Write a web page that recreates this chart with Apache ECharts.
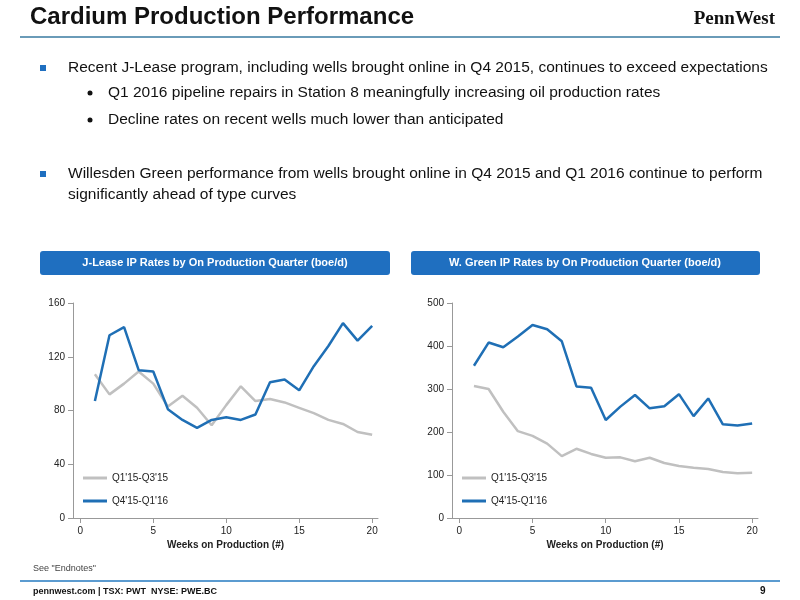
<!DOCTYPE html>
<html><head><meta charset="utf-8">
<script src="https://cdn.jsdelivr.net/npm/echarts@6/dist/echarts.min.js"></script>
<style>html,body{margin:0;padding:0;background:#fff}#c{width:800px;height:600px}</style>
</head><body><div id="c"></div>
<script>
const weeks = [1,2,3,4,5,6,7,8,9,10,11,12,13,14,15,16,17,18,19,20];
const jleaseOld = [107,92,100,109,100,83,91,82,69,84,98,87,88.5,86,82,78,73,70,64,62];
const jleaseNew = [87,136,142,110,109,81,73,67,73,75,73,77,101,103,95,113,128,145,132,143];
const greenOld = [307,300,247,202,191,173,144,161,149,140,141,132,140,128,121,117,114,107,104,105];
const greenNew = [354,408,397,422,449,439,411,306,303,228,259,286,255,260,288,237,278,218,215,220];
const xTicks = [0,5,10,15,20];
const seriesNames = ["Q1'15-Q3'15","Q4'15-Q1'16"];
const GRAY='#c0c0c0', BLUE='#1f6fb5';
const F='Liberation Sans, Arial, sans-serif';
const chart = echarts.init(document.getElementById('c'));
function xa(g){return {type:'value',gridIndex:g,min:-0.5,max:20.4,name:'Weeks on Production (#)',nameLocation:'middle',nameGap:22,
  nameTextStyle:{fontFamily:F,fontSize:10,fontWeight:'bold',color:'#222'},
  axisLine:{onZero:false,lineStyle:{color:'#999'}},axisTick:{show:true,customValues:xTicks,lineStyle:{color:'#999'}},splitLine:{show:false},
  axisLabel:{customValues:xTicks,fontFamily:F,fontSize:10,color:'#222'}};}
function ya(g,max,int){return {type:'value',gridIndex:g,min:0,max:max,interval:int,
  axisLine:{show:true,onZero:false,lineStyle:{color:'#999'}},axisTick:{show:true,lineStyle:{color:'#999'}},splitLine:{show:false},
  axisLabel:{fontFamily:F,fontSize:10,color:'#222'}};}
function ser(name,x,data,color){return {name:name,type:'line',xAxisIndex:x,yAxisIndex:x,data:weeks.map((w,i)=>[w,data[i]]),
  symbol:'none',lineStyle:{color:color,width:2.5},itemStyle:{color:color}};}
const bullets=[
 {t:'Recent J-Lease program, including wells brought online in Q4 2015, continues to exceed expectations',y:68,sq:true,x:68},
 {t:'Q1 2016 pipeline repairs in Station 8 meaningfully increasing oil production rates',y:93,x:108,dot:true},
 {t:'Decline rates on recent wells much lower than anticipated',y:120,x:108,dot:true},
 {t:'Willesden Green performance from wells brought online in Q4 2015 and Q1 2016 continue to perform',y:174,sq:true,x:68},
 {t:'significantly ahead of type curves',y:195,x:68}
];
const gr=[
 {type:'text',left:30,top:5,style:{text:'Cardium Production Performance',font:'bold 24px '+F,fill:'#111'}},
 {type:'text',right:25,top:10,style:{text:'PennWest',font:'bold 19px Liberation Serif, serif',fill:'#111'}},
 {type:'rect',shape:{x:20,y:36,width:760,height:2},style:{fill:'#6a9bb8'}},
 {type:'rect',shape:{x:40,y:251,width:350,height:24,r:3},style:{fill:'#1f6fc0'}},
 {type:'rect',shape:{x:411,y:251,width:349,height:24,r:3},style:{fill:'#1f6fc0'}},
 {type:'text',x:215,y:263,style:{text:'J-Lease IP Rates by On Production Quarter (boe/d)',font:'bold 11px '+F,fill:'#fff',textAlign:'center',textVerticalAlign:'middle'}},
 {type:'text',x:585,y:263,style:{text:'W. Green IP Rates by On Production Quarter (boe/d)',font:'bold 11px '+F,fill:'#fff',textAlign:'center',textVerticalAlign:'middle'}},
 {type:'text',left:33,top:564,style:{text:'See "Endnotes"',font:'9px '+F,fill:'#444'}},
 {type:'rect',shape:{x:20,y:580,width:760,height:2},style:{fill:'#5b9bd0'}},
 {type:'text',left:33,top:587,style:{text:'pennwest.com | TSX: PWT  NYSE: PWE.BC',font:'bold 9px '+F,fill:'#111'}},
 {type:'text',left:760,top:586,style:{text:'9',font:'bold 10px '+F,fill:'#111'}}
];
bullets.forEach(b=>{
  gr.push({type:'text',x:b.x,y:b.y,style:{text:b.t,font:'15.5px '+F,fill:'#111',textVerticalAlign:'middle'}});
  if(b.sq) gr.push({type:'rect',shape:{x:40,y:b.y-3,width:6,height:6},style:{fill:'#1f6fc0'}});
  if(b.dot) gr.push({type:'circle',shape:{cx:90,cy:b.y,r:2.5},style:{fill:'#111'}});
});
chart.setOption({
  animation:false,
  grid:[{left:73,top:303,width:305,height:215},{left:452,top:303,width:306,height:215}],
  xAxis:[xa(0),xa(1)],
  yAxis:[ya(0,160,40),ya(1,500,100)],
  legend:[
    {data:seriesNames,orient:'vertical',left:78,top:468,itemGap:13,itemWidth:24,itemHeight:3,icon:'rect',textStyle:{fontFamily:F,fontSize:10,color:'#222'}},
    {data:seriesNames,orient:'vertical',left:457,top:468,itemGap:13,itemWidth:24,itemHeight:3,icon:'rect',textStyle:{fontFamily:F,fontSize:10,color:'#222'}}
  ],
  series:[ser(seriesNames[0],0,jleaseOld,GRAY),ser(seriesNames[1],0,jleaseNew,BLUE),
          ser(seriesNames[0],1,greenOld,GRAY),ser(seriesNames[1],1,greenNew,BLUE)],
  graphic:gr
});
</script></body></html>
